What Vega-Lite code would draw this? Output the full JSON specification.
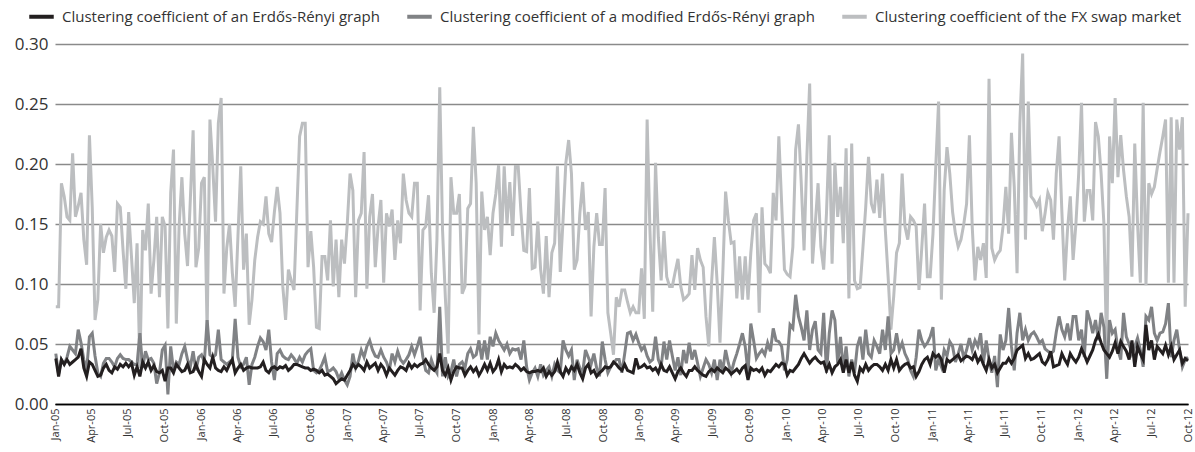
{
"$schema":"https://vega.github.io/schema/vega-lite/v6.json",
"autosize":{"type":"none"},
"padding":{"left":55,"top":44,"right":7,"bottom":48},
"width":1133,"height":360,
"background":"#ffffff",
"config":{"view":{"stroke":null},"font":"Open Sans"},
"data":{"values":[
{"d":"2005-01-03","e":0.038,"m":0.042,"f":0.081},
{"d":"2005-01-10","e":0.023,"m":0.025,"f":0.081},
{"d":"2005-01-17","e":0.037,"m":0.037,"f":0.184},
{"d":"2005-01-24","e":0.033,"m":0.033,"f":0.173},
{"d":"2005-01-31","e":0.037,"m":0.039,"f":0.156},
{"d":"2005-02-07","e":0.033,"m":0.048,"f":0.153},
{"d":"2005-02-14","e":0.035,"m":0.045,"f":0.209},
{"d":"2005-02-21","e":0.037,"m":0.042,"f":0.156},
{"d":"2005-02-28","e":0.039,"m":0.062,"f":0.165},
{"d":"2005-03-07","e":0.046,"m":0.051,"f":0.176},
{"d":"2005-03-14","e":0.030,"m":0.037,"f":0.137},
{"d":"2005-03-21","e":0.023,"m":0.028,"f":0.116},
{"d":"2005-03-28","e":0.035,"m":0.056,"f":0.224},
{"d":"2005-04-04","e":0.033,"m":0.059,"f":0.164},
{"d":"2005-04-11","e":0.028,"m":0.040,"f":0.070},
{"d":"2005-04-18","e":0.023,"m":0.026,"f":0.087},
{"d":"2005-04-25","e":0.024,"m":0.023,"f":0.150},
{"d":"2005-05-02","e":0.030,"m":0.034,"f":0.126},
{"d":"2005-05-09","e":0.033,"m":0.038,"f":0.139},
{"d":"2005-05-16","e":0.028,"m":0.038,"f":0.145},
{"d":"2005-05-23","e":0.026,"m":0.035,"f":0.140},
{"d":"2005-05-30","e":0.031,"m":0.031,"f":0.110},
{"d":"2005-06-06","e":0.029,"m":0.038,"f":0.167},
{"d":"2005-06-13","e":0.033,"m":0.041,"f":0.164},
{"d":"2005-06-20","e":0.031,"m":0.038,"f":0.128},
{"d":"2005-06-27","e":0.034,"m":0.037,"f":0.096},
{"d":"2005-07-04","e":0.031,"m":0.037,"f":0.160},
{"d":"2005-07-11","e":0.034,"m":0.035,"f":0.123},
{"d":"2005-07-18","e":0.024,"m":0.033,"f":0.084},
{"d":"2005-07-25","e":0.031,"m":0.033,"f":0.134},
{"d":"2005-08-01","e":0.023,"m":0.059,"f":0.030},
{"d":"2005-08-08","e":0.035,"m":0.030,"f":0.145},
{"d":"2005-08-15","e":0.030,"m":0.044,"f":0.128},
{"d":"2005-08-22","e":0.035,"m":0.037,"f":0.167},
{"d":"2005-08-29","e":0.028,"m":0.038,"f":0.092},
{"d":"2005-09-05","e":0.032,"m":0.034,"f":0.120},
{"d":"2005-09-12","e":0.027,"m":0.017,"f":0.156},
{"d":"2005-09-19","e":0.026,"m":0.026,"f":0.089},
{"d":"2005-09-26","e":0.028,"m":0.045,"f":0.156},
{"d":"2005-10-03","e":0.019,"m":0.049,"f":0.148},
{"d":"2005-10-10","e":0.030,"m":0.008,"f":0.063},
{"d":"2005-10-17","e":0.030,"m":0.048,"f":0.176},
{"d":"2005-10-24","e":0.026,"m":0.028,"f":0.212},
{"d":"2005-10-31","e":0.033,"m":0.035,"f":0.067},
{"d":"2005-11-07","e":0.030,"m":0.033,"f":0.148},
{"d":"2005-11-14","e":0.027,"m":0.042,"f":0.189},
{"d":"2005-11-21","e":0.028,"m":0.048,"f":0.142},
{"d":"2005-11-28","e":0.033,"m":0.037,"f":0.115},
{"d":"2005-12-05","e":0.026,"m":0.031,"f":0.170},
{"d":"2005-12-12","e":0.027,"m":0.044,"f":0.228},
{"d":"2005-12-19","e":0.033,"m":0.028,"f":0.114},
{"d":"2005-12-26","e":0.027,"m":0.039,"f":0.130},
{"d":"2006-01-02","e":0.023,"m":0.041,"f":0.184},
{"d":"2006-01-09","e":0.037,"m":0.035,"f":0.189},
{"d":"2006-01-16","e":0.033,"m":0.070,"f":0.060},
{"d":"2006-01-23","e":0.030,"m":0.041,"f":0.237},
{"d":"2006-01-30","e":0.039,"m":0.039,"f":0.198},
{"d":"2006-02-06","e":0.030,"m":0.041,"f":0.152},
{"d":"2006-02-13","e":0.028,"m":0.062,"f":0.234},
{"d":"2006-02-20","e":0.027,"m":0.037,"f":0.255},
{"d":"2006-02-27","e":0.031,"m":0.035,"f":0.092},
{"d":"2006-03-06","e":0.028,"m":0.033,"f":0.130},
{"d":"2006-03-13","e":0.033,"m":0.035,"f":0.150},
{"d":"2006-03-20","e":0.037,"m":0.037,"f":0.109},
{"d":"2006-03-27","e":0.026,"m":0.071,"f":0.081},
{"d":"2006-04-03","e":0.030,"m":0.039,"f":0.140},
{"d":"2006-04-10","e":0.033,"m":0.031,"f":0.198},
{"d":"2006-04-17","e":0.028,"m":0.033,"f":0.112},
{"d":"2006-04-24","e":0.030,"m":0.039,"f":0.142},
{"d":"2006-05-01","e":0.031,"m":0.016,"f":0.066},
{"d":"2006-05-08","e":0.030,"m":0.033,"f":0.087},
{"d":"2006-05-15","e":0.030,"m":0.039,"f":0.120},
{"d":"2006-05-22","e":0.030,"m":0.048,"f":0.139},
{"d":"2006-05-29","e":0.031,"m":0.055,"f":0.152},
{"d":"2006-06-05","e":0.035,"m":0.052,"f":0.150},
{"d":"2006-06-12","e":0.028,"m":0.045,"f":0.173},
{"d":"2006-06-19","e":0.026,"m":0.062,"f":0.142},
{"d":"2006-06-26","e":0.030,"m":0.035,"f":0.135},
{"d":"2006-07-03","e":0.031,"m":0.020,"f":0.160},
{"d":"2006-07-10","e":0.029,"m":0.042,"f":0.181},
{"d":"2006-07-17","e":0.031,"m":0.045,"f":0.159},
{"d":"2006-07-24","e":0.030,"m":0.040,"f":0.098},
{"d":"2006-07-31","e":0.032,"m":0.038,"f":0.070},
{"d":"2006-08-07","e":0.028,"m":0.037,"f":0.112},
{"d":"2006-08-14","e":0.030,"m":0.041,"f":0.103},
{"d":"2006-08-21","e":0.033,"m":0.038,"f":0.095},
{"d":"2006-08-28","e":0.033,"m":0.034,"f":0.160},
{"d":"2006-09-04","e":0.032,"m":0.039,"f":0.223},
{"d":"2006-09-11","e":0.031,"m":0.035,"f":0.234},
{"d":"2006-09-18","e":0.030,"m":0.041,"f":0.234},
{"d":"2006-09-25","e":0.030,"m":0.044,"f":0.114},
{"d":"2006-10-02","e":0.028,"m":0.046,"f":0.144},
{"d":"2006-10-09","e":0.029,"m":0.028,"f":0.114},
{"d":"2006-10-16","e":0.028,"m":0.026,"f":0.064},
{"d":"2006-10-23","e":0.026,"m":0.028,"f":0.063},
{"d":"2006-10-30","e":0.028,"m":0.033,"f":0.123},
{"d":"2006-11-06","e":0.024,"m":0.039,"f":0.123},
{"d":"2006-11-13","e":0.025,"m":0.027,"f":0.103},
{"d":"2006-11-20","e":0.023,"m":0.028,"f":0.153},
{"d":"2006-11-27","e":0.021,"m":0.030,"f":0.098},
{"d":"2006-12-04","e":0.017,"m":0.027,"f":0.137},
{"d":"2006-12-11","e":0.019,"m":0.021,"f":0.089},
{"d":"2006-12-18","e":0.021,"m":0.026,"f":0.137},
{"d":"2006-12-25","e":0.020,"m":0.020,"f":0.117},
{"d":"2007-01-01","e":0.024,"m":0.016,"f":0.150},
{"d":"2007-01-08","e":0.028,"m":0.023,"f":0.192},
{"d":"2007-01-15","e":0.033,"m":0.042,"f":0.178},
{"d":"2007-01-22","e":0.030,"m":0.030,"f":0.089},
{"d":"2007-01-29","e":0.033,"m":0.036,"f":0.153},
{"d":"2007-02-05","e":0.031,"m":0.045,"f":0.159},
{"d":"2007-02-12","e":0.028,"m":0.039,"f":0.210},
{"d":"2007-02-19","e":0.035,"m":0.048,"f":0.096},
{"d":"2007-02-26","e":0.030,"m":0.053,"f":0.156},
{"d":"2007-03-05","e":0.032,"m":0.045,"f":0.175},
{"d":"2007-03-12","e":0.034,"m":0.040,"f":0.114},
{"d":"2007-03-19","e":0.028,"m":0.039,"f":0.148},
{"d":"2007-03-26","e":0.033,"m":0.045,"f":0.170},
{"d":"2007-04-02","e":0.030,"m":0.039,"f":0.101},
{"d":"2007-04-09","e":0.024,"m":0.035,"f":0.159},
{"d":"2007-04-16","e":0.030,"m":0.028,"f":0.148},
{"d":"2007-04-23","e":0.027,"m":0.042,"f":0.162},
{"d":"2007-04-30","e":0.024,"m":0.035,"f":0.120},
{"d":"2007-05-07","e":0.028,"m":0.044,"f":0.153},
{"d":"2007-05-14","e":0.031,"m":0.037,"f":0.134},
{"d":"2007-05-21","e":0.030,"m":0.034,"f":0.192},
{"d":"2007-05-28","e":0.028,"m":0.037,"f":0.170},
{"d":"2007-06-04","e":0.034,"m":0.041,"f":0.159},
{"d":"2007-06-11","e":0.030,"m":0.048,"f":0.156},
{"d":"2007-06-18","e":0.033,"m":0.041,"f":0.184},
{"d":"2007-06-25","e":0.031,"m":0.048,"f":0.184},
{"d":"2007-07-02","e":0.033,"m":0.056,"f":0.078},
{"d":"2007-07-09","e":0.034,"m":0.039,"f":0.145},
{"d":"2007-07-16","e":0.037,"m":0.028,"f":0.148},
{"d":"2007-07-23","e":0.033,"m":0.026,"f":0.174},
{"d":"2007-07-30","e":0.030,"m":0.037,"f":0.109},
{"d":"2007-08-06","e":0.028,"m":0.030,"f":0.076},
{"d":"2007-08-13","e":0.031,"m":0.026,"f":0.137},
{"d":"2007-08-20","e":0.042,"m":0.081,"f":0.264},
{"d":"2007-08-27","e":0.028,"m":0.023,"f":0.145},
{"d":"2007-09-03","e":0.024,"m":0.039,"f":0.089},
{"d":"2007-09-10","e":0.030,"m":0.023,"f":0.042},
{"d":"2007-09-17","e":0.020,"m":0.027,"f":0.189},
{"d":"2007-09-24","e":0.027,"m":0.037,"f":0.159},
{"d":"2007-10-01","e":0.031,"m":0.023,"f":0.159},
{"d":"2007-10-08","e":0.030,"m":0.033,"f":0.175},
{"d":"2007-10-15","e":0.030,"m":0.035,"f":0.092},
{"d":"2007-10-22","e":0.024,"m":0.030,"f":0.098},
{"d":"2007-10-29","e":0.028,"m":0.042,"f":0.163},
{"d":"2007-11-05","e":0.031,"m":0.046,"f":0.167},
{"d":"2007-11-12","e":0.027,"m":0.039,"f":0.231},
{"d":"2007-11-19","e":0.030,"m":0.041,"f":0.184},
{"d":"2007-11-26","e":0.024,"m":0.053,"f":0.058},
{"d":"2007-12-03","e":0.028,"m":0.037,"f":0.177},
{"d":"2007-12-10","e":0.033,"m":0.053,"f":0.145},
{"d":"2007-12-17","e":0.028,"m":0.037,"f":0.156},
{"d":"2007-12-24","e":0.034,"m":0.056,"f":0.124},
{"d":"2007-12-31","e":0.027,"m":0.048,"f":0.159},
{"d":"2008-01-07","e":0.030,"m":0.059,"f":0.175},
{"d":"2008-01-14","e":0.037,"m":0.053,"f":0.199},
{"d":"2008-01-21","e":0.027,"m":0.049,"f":0.131},
{"d":"2008-01-28","e":0.033,"m":0.045,"f":0.198},
{"d":"2008-02-04","e":0.030,"m":0.050,"f":0.150},
{"d":"2008-02-11","e":0.031,"m":0.042,"f":0.185},
{"d":"2008-02-18","e":0.030,"m":0.046,"f":0.140},
{"d":"2008-02-25","e":0.033,"m":0.045,"f":0.198},
{"d":"2008-03-03","e":0.031,"m":0.046,"f":0.198},
{"d":"2008-03-10","e":0.028,"m":0.037,"f":0.159},
{"d":"2008-03-17","e":0.030,"m":0.053,"f":0.128},
{"d":"2008-03-24","e":0.027,"m":0.031,"f":0.127},
{"d":"2008-03-31","e":0.026,"m":0.020,"f":0.180},
{"d":"2008-04-07","e":0.027,"m":0.026,"f":0.113},
{"d":"2008-04-14","e":0.027,"m":0.030,"f":0.114},
{"d":"2008-04-21","e":0.028,"m":0.023,"f":0.152},
{"d":"2008-04-28","e":0.027,"m":0.033,"f":0.112},
{"d":"2008-05-05","e":0.030,"m":0.024,"f":0.092},
{"d":"2008-05-12","e":0.023,"m":0.028,"f":0.140},
{"d":"2008-05-19","e":0.027,"m":0.031,"f":0.089},
{"d":"2008-05-26","e":0.024,"m":0.023,"f":0.126},
{"d":"2008-06-02","e":0.027,"m":0.033,"f":0.134},
{"d":"2008-06-09","e":0.035,"m":0.028,"f":0.198},
{"d":"2008-06-16","e":0.027,"m":0.026,"f":0.110},
{"d":"2008-06-23","e":0.023,"m":0.053,"f":0.153},
{"d":"2008-06-30","e":0.030,"m":0.045,"f":0.201},
{"d":"2008-07-07","e":0.026,"m":0.040,"f":0.220},
{"d":"2008-07-14","e":0.031,"m":0.045,"f":0.192},
{"d":"2008-07-21","e":0.028,"m":0.020,"f":0.112},
{"d":"2008-07-28","e":0.033,"m":0.037,"f":0.120},
{"d":"2008-08-04","e":0.026,"m":0.030,"f":0.159},
{"d":"2008-08-11","e":0.021,"m":0.026,"f":0.185},
{"d":"2008-08-18","e":0.030,"m":0.045,"f":0.145},
{"d":"2008-08-25","e":0.033,"m":0.039,"f":0.160},
{"d":"2008-09-01","e":0.026,"m":0.033,"f":0.073},
{"d":"2008-09-08","e":0.028,"m":0.042,"f":0.131},
{"d":"2008-09-15","e":0.023,"m":0.030,"f":0.159},
{"d":"2008-09-22","e":0.026,"m":0.023,"f":0.133},
{"d":"2008-09-29","e":0.028,"m":0.052,"f":0.133},
{"d":"2008-10-06","e":0.031,"m":0.037,"f":0.180},
{"d":"2008-10-13","e":0.030,"m":0.026,"f":0.076},
{"d":"2008-10-20","e":0.031,"m":0.031,"f":0.059},
{"d":"2008-10-27","e":0.035,"m":0.034,"f":0.041},
{"d":"2008-11-03","e":0.033,"m":0.037,"f":0.089},
{"d":"2008-11-10","e":0.030,"m":0.037,"f":0.081},
{"d":"2008-11-17","e":0.028,"m":0.026,"f":0.095},
{"d":"2008-11-24","e":0.033,"m":0.042,"f":0.095},
{"d":"2008-12-01","e":0.028,"m":0.059,"f":0.085},
{"d":"2008-12-08","e":0.027,"m":0.060,"f":0.076},
{"d":"2008-12-15","e":0.026,"m":0.053,"f":0.081},
{"d":"2008-12-22","e":0.038,"m":0.058,"f":0.076},
{"d":"2008-12-29","e":0.030,"m":0.051,"f":0.076},
{"d":"2009-01-05","e":0.031,"m":0.045,"f":0.113},
{"d":"2009-01-12","e":0.033,"m":0.048,"f":0.071},
{"d":"2009-01-19","e":0.030,"m":0.040,"f":0.237},
{"d":"2009-01-26","e":0.031,"m":0.035,"f":0.145},
{"d":"2009-02-02","e":0.028,"m":0.037,"f":0.077},
{"d":"2009-02-09","e":0.030,"m":0.056,"f":0.201},
{"d":"2009-02-16","e":0.026,"m":0.037,"f":0.139},
{"d":"2009-02-23","e":0.033,"m":0.031,"f":0.103},
{"d":"2009-03-02","e":0.028,"m":0.052,"f":0.144},
{"d":"2009-03-09","e":0.027,"m":0.037,"f":0.106},
{"d":"2009-03-16","e":0.031,"m":0.053,"f":0.098},
{"d":"2009-03-23","e":0.026,"m":0.040,"f":0.098},
{"d":"2009-03-30","e":0.021,"m":0.028,"f":0.110},
{"d":"2009-04-06","e":0.027,"m":0.039,"f":0.121},
{"d":"2009-04-13","e":0.030,"m":0.024,"f":0.098},
{"d":"2009-04-20","e":0.026,"m":0.045,"f":0.087},
{"d":"2009-04-27","e":0.023,"m":0.034,"f":0.089},
{"d":"2009-05-04","e":0.028,"m":0.051,"f":0.092},
{"d":"2009-05-11","e":0.028,"m":0.037,"f":0.124},
{"d":"2009-05-18","e":0.031,"m":0.045,"f":0.095},
{"d":"2009-05-25","e":0.028,"m":0.034,"f":0.130},
{"d":"2009-06-01","e":0.026,"m":0.023,"f":0.120},
{"d":"2009-06-08","e":0.024,"m":0.030,"f":0.114},
{"d":"2009-06-15","e":0.023,"m":0.037,"f":0.073},
{"d":"2009-06-22","e":0.027,"m":0.033,"f":0.048},
{"d":"2009-06-29","e":0.029,"m":0.026,"f":0.101},
{"d":"2009-07-06","e":0.027,"m":0.037,"f":0.139},
{"d":"2009-07-13","e":0.030,"m":0.020,"f":0.101},
{"d":"2009-07-20","e":0.028,"m":0.037,"f":0.051},
{"d":"2009-07-27","e":0.026,"m":0.028,"f":0.109},
{"d":"2009-08-03","e":0.030,"m":0.045,"f":0.177},
{"d":"2009-08-10","e":0.028,"m":0.034,"f":0.153},
{"d":"2009-08-17","e":0.025,"m":0.026,"f":0.134},
{"d":"2009-08-24","e":0.027,"m":0.035,"f":0.135},
{"d":"2009-08-31","e":0.029,"m":0.042,"f":0.088},
{"d":"2009-09-07","e":0.026,"m":0.050,"f":0.123},
{"d":"2009-09-14","e":0.030,"m":0.059,"f":0.087},
{"d":"2009-09-21","e":0.032,"m":0.048,"f":0.123},
{"d":"2009-09-28","e":0.020,"m":0.026,"f":0.087},
{"d":"2009-10-05","e":0.030,"m":0.067,"f":0.126},
{"d":"2009-10-12","e":0.028,"m":0.053,"f":0.153},
{"d":"2009-10-19","e":0.029,"m":0.038,"f":0.159},
{"d":"2009-10-26","e":0.027,"m":0.042,"f":0.076},
{"d":"2009-11-02","e":0.030,"m":0.045,"f":0.164},
{"d":"2009-11-09","e":0.024,"m":0.041,"f":0.117},
{"d":"2009-11-16","e":0.028,"m":0.051,"f":0.114},
{"d":"2009-11-23","e":0.027,"m":0.044,"f":0.109},
{"d":"2009-11-30","e":0.030,"m":0.063,"f":0.176},
{"d":"2009-12-07","e":0.033,"m":0.053,"f":0.153},
{"d":"2009-12-14","e":0.031,"m":0.052,"f":0.223},
{"d":"2009-12-21","e":0.034,"m":0.048,"f":0.167},
{"d":"2009-12-28","e":0.033,"m":0.028,"f":0.112},
{"d":"2010-01-04","e":0.024,"m":0.037,"f":0.108},
{"d":"2010-01-11","e":0.028,"m":0.066,"f":0.106},
{"d":"2010-01-18","e":0.027,"m":0.063,"f":0.131},
{"d":"2010-01-25","e":0.030,"m":0.091,"f":0.212},
{"d":"2010-02-01","e":0.033,"m":0.073,"f":0.233},
{"d":"2010-02-08","e":0.038,"m":0.064,"f":0.184},
{"d":"2010-02-15","e":0.042,"m":0.053,"f":0.128},
{"d":"2010-02-22","e":0.038,"m":0.078,"f":0.206},
{"d":"2010-03-01","e":0.034,"m":0.045,"f":0.267},
{"d":"2010-03-08","e":0.037,"m":0.062,"f":0.117},
{"d":"2010-03-15","e":0.039,"m":0.069,"f":0.150},
{"d":"2010-03-22","e":0.036,"m":0.045,"f":0.184},
{"d":"2010-03-29","e":0.034,"m":0.042,"f":0.131},
{"d":"2010-04-05","e":0.035,"m":0.076,"f":0.112},
{"d":"2010-04-12","e":0.028,"m":0.026,"f":0.159},
{"d":"2010-04-19","e":0.033,"m":0.059,"f":0.224},
{"d":"2010-04-26","e":0.026,"m":0.078,"f":0.117},
{"d":"2010-05-03","e":0.031,"m":0.070,"f":0.201},
{"d":"2010-05-10","e":0.033,"m":0.034,"f":0.156},
{"d":"2010-05-17","e":0.037,"m":0.056,"f":0.181},
{"d":"2010-05-24","e":0.026,"m":0.028,"f":0.134},
{"d":"2010-05-31","e":0.037,"m":0.048,"f":0.213},
{"d":"2010-06-07","e":0.026,"m":0.023,"f":0.088},
{"d":"2010-06-14","e":0.035,"m":0.037,"f":0.217},
{"d":"2010-06-21","e":0.024,"m":0.026,"f":0.103},
{"d":"2010-06-28","e":0.019,"m":0.048,"f":0.096},
{"d":"2010-07-05","e":0.030,"m":0.056,"f":0.097},
{"d":"2010-07-12","e":0.027,"m":0.037,"f":0.130},
{"d":"2010-07-19","e":0.033,"m":0.062,"f":0.164},
{"d":"2010-07-26","e":0.028,"m":0.042,"f":0.206},
{"d":"2010-08-02","e":0.031,"m":0.039,"f":0.167},
{"d":"2010-08-09","e":0.033,"m":0.053,"f":0.159},
{"d":"2010-08-16","e":0.033,"m":0.048,"f":0.187},
{"d":"2010-08-23","e":0.031,"m":0.042,"f":0.155},
{"d":"2010-08-30","e":0.028,"m":0.062,"f":0.192},
{"d":"2010-09-06","e":0.033,"m":0.045,"f":0.145},
{"d":"2010-09-13","e":0.028,"m":0.073,"f":0.106},
{"d":"2010-09-20","e":0.037,"m":0.042,"f":0.062},
{"d":"2010-09-27","e":0.030,"m":0.045,"f":0.090},
{"d":"2010-10-04","e":0.037,"m":0.059,"f":0.126},
{"d":"2010-10-11","e":0.028,"m":0.045,"f":0.134},
{"d":"2010-10-18","e":0.031,"m":0.051,"f":0.192},
{"d":"2010-10-25","e":0.033,"m":0.042,"f":0.148},
{"d":"2010-11-01","e":0.034,"m":0.037,"f":0.137},
{"d":"2010-11-08","e":0.030,"m":0.028,"f":0.156},
{"d":"2010-11-15","e":0.031,"m":0.023,"f":0.153},
{"d":"2010-11-22","e":0.023,"m":0.039,"f":0.148},
{"d":"2010-11-29","e":0.027,"m":0.062,"f":0.095},
{"d":"2010-12-06","e":0.033,"m":0.053,"f":0.130},
{"d":"2010-12-13","e":0.037,"m":0.048,"f":0.167},
{"d":"2010-12-20","e":0.039,"m":0.051,"f":0.106},
{"d":"2010-12-27","e":0.033,"m":0.056,"f":0.106},
{"d":"2011-01-03","e":0.042,"m":0.064,"f":0.142},
{"d":"2011-01-10","e":0.039,"m":0.028,"f":0.198},
{"d":"2011-01-17","e":0.041,"m":0.037,"f":0.252},
{"d":"2011-01-24","e":0.037,"m":0.031,"f":0.087},
{"d":"2011-01-31","e":0.026,"m":0.045,"f":0.178},
{"d":"2011-02-07","e":0.037,"m":0.040,"f":0.214},
{"d":"2011-02-14","e":0.035,"m":0.052,"f":0.192},
{"d":"2011-02-21","e":0.037,"m":0.048,"f":0.160},
{"d":"2011-02-28","e":0.039,"m":0.035,"f":0.142},
{"d":"2011-03-07","e":0.041,"m":0.042,"f":0.131},
{"d":"2011-03-14","e":0.036,"m":0.050,"f":0.137},
{"d":"2011-03-21","e":0.038,"m":0.038,"f":0.150},
{"d":"2011-03-28","e":0.040,"m":0.045,"f":0.167},
{"d":"2011-04-04","e":0.039,"m":0.055,"f":0.224},
{"d":"2011-04-11","e":0.037,"m":0.045,"f":0.148},
{"d":"2011-04-18","e":0.042,"m":0.053,"f":0.103},
{"d":"2011-04-25","e":0.035,"m":0.048,"f":0.131},
{"d":"2011-05-02","e":0.039,"m":0.059,"f":0.120},
{"d":"2011-05-09","e":0.033,"m":0.034,"f":0.134},
{"d":"2011-05-16","e":0.028,"m":0.053,"f":0.105},
{"d":"2011-05-23","e":0.037,"m":0.037,"f":0.271},
{"d":"2011-05-30","e":0.030,"m":0.026,"f":0.130},
{"d":"2011-06-06","e":0.033,"m":0.040,"f":0.120},
{"d":"2011-06-13","e":0.026,"m":0.014,"f":0.125},
{"d":"2011-06-20","e":0.030,"m":0.058,"f":0.128},
{"d":"2011-06-27","e":0.034,"m":0.045,"f":0.148},
{"d":"2011-07-04","e":0.034,"m":0.053,"f":0.181},
{"d":"2011-07-11","e":0.038,"m":0.080,"f":0.142},
{"d":"2011-07-18","e":0.034,"m":0.048,"f":0.226},
{"d":"2011-07-25","e":0.038,"m":0.028,"f":0.181},
{"d":"2011-08-01","e":0.045,"m":0.059,"f":0.109},
{"d":"2011-08-08","e":0.047,"m":0.076,"f":0.234},
{"d":"2011-08-15","e":0.049,"m":0.053,"f":0.292},
{"d":"2011-08-22","e":0.038,"m":0.062,"f":0.137},
{"d":"2011-08-29","e":0.042,"m":0.053,"f":0.252},
{"d":"2011-09-05","e":0.037,"m":0.058,"f":0.173},
{"d":"2011-09-12","e":0.038,"m":0.060,"f":0.170},
{"d":"2011-09-19","e":0.040,"m":0.056,"f":0.165},
{"d":"2011-09-26","e":0.042,"m":0.051,"f":0.170},
{"d":"2011-10-03","e":0.035,"m":0.053,"f":0.144},
{"d":"2011-10-10","e":0.033,"m":0.046,"f":0.159},
{"d":"2011-10-17","e":0.037,"m":0.044,"f":0.176},
{"d":"2011-10-24","e":0.044,"m":0.042,"f":0.170},
{"d":"2011-10-31","e":0.031,"m":0.044,"f":0.137},
{"d":"2011-11-07","e":0.032,"m":0.060,"f":0.192},
{"d":"2011-11-14","e":0.033,"m":0.073,"f":0.223},
{"d":"2011-11-21","e":0.042,"m":0.062,"f":0.160},
{"d":"2011-11-28","e":0.037,"m":0.056,"f":0.103},
{"d":"2011-12-05","e":0.033,"m":0.067,"f":0.145},
{"d":"2011-12-12","e":0.042,"m":0.053,"f":0.173},
{"d":"2011-12-19","e":0.038,"m":0.073,"f":0.120},
{"d":"2011-12-26","e":0.035,"m":0.073,"f":0.150},
{"d":"2012-01-02","e":0.039,"m":0.053,"f":0.192},
{"d":"2012-01-09","e":0.046,"m":0.062,"f":0.251},
{"d":"2012-01-16","e":0.041,"m":0.039,"f":0.152},
{"d":"2012-01-23","e":0.035,"m":0.078,"f":0.178},
{"d":"2012-01-30","e":0.040,"m":0.070,"f":0.178},
{"d":"2012-02-06","e":0.045,"m":0.059,"f":0.153},
{"d":"2012-02-13","e":0.053,"m":0.070,"f":0.235},
{"d":"2012-02-20","e":0.058,"m":0.053,"f":0.223},
{"d":"2012-02-27","e":0.051,"m":0.076,"f":0.192},
{"d":"2012-03-05","e":0.045,"m":0.064,"f":0.150},
{"d":"2012-03-12","e":0.042,"m":0.021,"f":0.040},
{"d":"2012-03-19","e":0.039,"m":0.070,"f":0.223},
{"d":"2012-03-26","e":0.044,"m":0.059,"f":0.184},
{"d":"2012-04-02","e":0.051,"m":0.062,"f":0.255},
{"d":"2012-04-09","e":0.042,"m":0.045,"f":0.189},
{"d":"2012-04-16","e":0.052,"m":0.037,"f":0.224},
{"d":"2012-04-23","e":0.048,"m":0.076,"f":0.195},
{"d":"2012-04-30","e":0.044,"m":0.056,"f":0.173},
{"d":"2012-05-07","e":0.037,"m":0.050,"f":0.156},
{"d":"2012-05-14","e":0.053,"m":0.042,"f":0.106},
{"d":"2012-05-21","e":0.031,"m":0.048,"f":0.217},
{"d":"2012-05-28","e":0.048,"m":0.055,"f":0.150},
{"d":"2012-06-04","e":0.042,"m":0.045,"f":0.101},
{"d":"2012-06-11","e":0.037,"m":0.031,"f":0.251},
{"d":"2012-06-18","e":0.066,"m":0.073,"f":0.099},
{"d":"2012-06-25","e":0.045,"m":0.070,"f":0.184},
{"d":"2012-07-02","e":0.053,"m":0.081,"f":0.175},
{"d":"2012-07-09","e":0.037,"m":0.059,"f":0.181},
{"d":"2012-07-16","e":0.048,"m":0.053,"f":0.196},
{"d":"2012-07-23","e":0.045,"m":0.059,"f":0.210},
{"d":"2012-07-30","e":0.042,"m":0.060,"f":0.223},
{"d":"2012-08-06","e":0.049,"m":0.067,"f":0.237},
{"d":"2012-08-13","e":0.041,"m":0.084,"f":0.101},
{"d":"2012-08-20","e":0.048,"m":0.039,"f":0.239},
{"d":"2012-08-27","e":0.037,"m":0.053,"f":0.101},
{"d":"2012-09-03","e":0.041,"m":0.062,"f":0.237},
{"d":"2012-09-10","e":0.045,"m":0.045,"f":0.212},
{"d":"2012-09-17","e":0.034,"m":0.031,"f":0.239},
{"d":"2012-09-24","e":0.038,"m":0.037,"f":0.081},
{"d":"2012-10-01","e":0.036,"m":0.039,"f":0.159}
]},
"encoding":{
"x":{"field":"d","type":"temporal","title":null,
"scale":{"domain":[{"year":2005,"month":1,"date":1},{"year":2012,"month":10,"date":1}]},
"axis":{"format":"%b-%y","tickCount":{"interval":"month","step":3},"labelAngle":-90,"labelFontSize":11,"labelColor":"#333333","labelFont":"Open Sans","ticks":false,"domain":true,"domainColor":"#000000","domainWidth":1.5,"grid":false,"labelPadding":4,"labelOverlap":false,"labelFlush":false,"labelBound":false}}
},
"layer":[
{"mark":{"type":"line","strokeWidth":3},
"encoding":{
"y":{"field":"f","type":"quantitative","title":null,"scale":{"domain":[0,0.3]},
"axis":{"values":[0,0.05,0.1,0.15,0.2,0.25,0.3],"format":".2f","labelFontSize":17,"labelColor":"#333333","labelFont":"Open Sans","labelPadding":7,"ticks":false,"domain":false,"gridColor":{"condition":{"test":"datum.value === 0","value":"#000000"},"value":"#8a8a8a"},"gridWidth":1.5}},
"color":{"datum":"Clustering coefficient of the FX swap market","type":"nominal",
"scale":{"domain":["Clustering coefficient of an Erdős-Rényi graph","Clustering coefficient of a modified Erdős-Rényi graph","Clustering coefficient of the FX swap market"],"range":["#231f20","#808285","#bcbec0"]},
"legend":{"title":null,"orient":"none","legendX":-28,"legendY":-42,"direction":"horizontal","columns":3,"symbolType":"stroke","symbolStrokeWidth":4,"symbolSize":600,"labelFontSize":15,"labelFont":"Open Sans","labelColor":"#333333","labelLimit":800,"columnPadding":19,"labelOffset":6}}
}},
{"mark":{"type":"line","strokeWidth":3},
"encoding":{
"y":{"field":"m","type":"quantitative"},
"color":{"datum":"Clustering coefficient of a modified Erdős-Rényi graph","type":"nominal"}
}},
{"mark":{"type":"line","strokeWidth":3},
"encoding":{
"y":{"field":"e","type":"quantitative"},
"color":{"datum":"Clustering coefficient of an Erdős-Rényi graph","type":"nominal"}
}}
]
}
